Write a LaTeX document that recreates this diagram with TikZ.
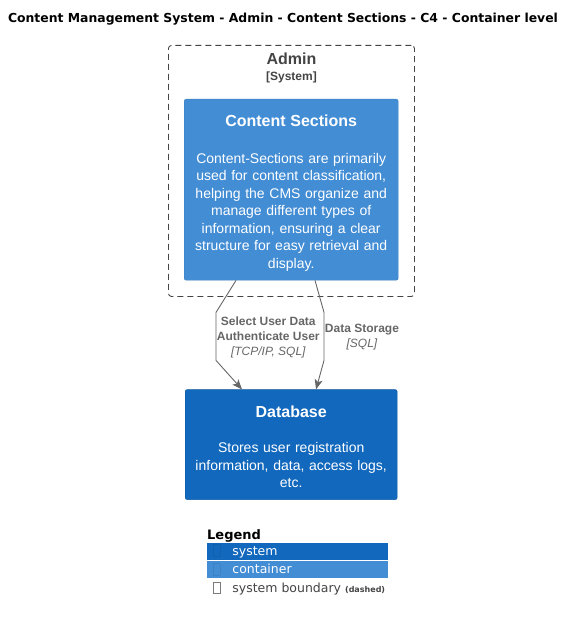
\documentclass[tikz,border=0pt]{standalone}
\usepackage{fontspec}
\setmainfont{Liberation Sans}
\newfontfamily\dejavu{DejaVu Sans}
\usepackage{xcolor}
\usepackage{tikz}
\usetikzlibrary{shapes,arrows.meta,positioning}

\definecolor{sysblue}{HTML}{1168BD}
\definecolor{contblue}{HTML}{438DD5}
\definecolor{contline}{HTML}{3C7FC0}
\definecolor{relgray}{HTML}{666666}
\definecolor{bndgray}{HTML}{444444}

\newcommand{\tofubox}[1]{\raisebox{-1pt}{{\color{#1}\fboxrule=0.6pt\fboxsep=0pt\fbox{\rule{0pt}{11pt}\hspace{6pt}}}}}

\tikzset{
  container/.style={rectangle, draw=contline, fill=contblue, rounded corners=2pt, text=white, align=center, inner sep=0pt, font=\fontsize{14}{17.5}\selectfont},
  dbsystem/.style={rectangle, draw=sysblue!85!black, fill=sysblue, rounded corners=2pt, text=white, align=center, inner sep=0pt, font=\fontsize{14}{17.5}\selectfont},
  boundary/.style={rectangle, draw=bndgray, line width=0.9pt, dash pattern=on 6pt off 4pt, rounded corners=3pt},
  rel/.style={draw=relgray, line width=0.9pt, -{Stealth[length=10pt,width=8pt,inset=2.5pt]}},
  rellabel/.style={text=relgray, align=center, inner sep=0.5pt, font=\fontsize{12}{15}\selectfont},
  legrow/.style={rectangle, minimum width=181pt, minimum height=17pt, inner xsep=6pt, inner ysep=0pt, align=left, font=\dejavu\fontsize{12.5}{15}\selectfont}
}

\begin{document}
\begin{tikzpicture}[x=1pt, y=-1pt]
\useasboundingbox (0,0) rectangle (574,620);

\node[font=\dejavu\bfseries\fontsize{12.4}{14}\selectfont] (title) at (283,19) {Content Management System - Admin - Content Sections - C4 - Container level};

\node[boundary, minimum width=246pt, minimum height=251pt, anchor=north west] (admin) at (168,45) {};
\node[below=7.5pt of admin.north, text=bndgray, align=center, inner sep=0pt, font=\bfseries\fontsize{16}{16}\selectfont] (adminlabel) {Admin\\[0pt]{\fontsize{12}{14}\selectfont [System]}};

\node[container, minimum width=214pt, minimum height=181pt, text width=206pt, text height=18.5pt, anchor=north west] (sections) at (184,99)
  {{\bfseries\fontsize{16}{19}\selectfont Content Sections}\\[19pt]
   Content-Sections are primarily\\ used for content classification,\\ helping the CMS organize and\\ manage different types of\\ information, ensuring a clear\\ structure for easy retrieval and\\ display.};

\node[dbsystem, minimum width=212pt, minimum height=110pt, text width=204pt, text height=16pt, below=109pt of sections] (database)
  {{\bfseries\fontsize{16}{19}\selectfont Database}\\[18pt]
   Stores user registration\\ information, data, access logs,\\ etc.};

\draw[rel] ([xshift=52pt]sections.south west) -- ++(-20,32)
  -- node[rellabel, right, yshift=-1pt] {\bfseries Select User Data\\ \bfseries Authenticate User\\ \itshape [TCP/IP, SQL]} ++(0,48)
  -- ([xshift=57pt]database.north west);
\draw[rel] ([xshift=131pt]sections.south west) -- ++(9,32)
  -- node[rellabel, right, yshift=-1pt] {\bfseries Data Storage\\ \itshape [SQL]} ++(0,48)
  -- ([xshift=131pt]database.north west);

% legend
\node[anchor=west, inner sep=0pt, font=\dejavu\bfseries\fontsize{13}{15}\selectfont] (legend) at (207,535.5) {Legend};
\node[legrow, fill=sysblue, text=white, text width=169pt, anchor=west] (lsystem) at (207,551) {\tofubox{sysblue!92!black}\hspace{12pt}system};
\node[legrow, fill=contblue, text=white, text width=169pt, below=1pt of lsystem] (lcontainer) {\tofubox{contblue!92!black}\hspace{12pt}container};
\node[legrow, text=bndgray, below=1.5pt of lcontainer.south west, anchor=north west] (lboundary) {\tofubox{bndgray!70}\hspace{12pt}system boundary {\bfseries\fontsize{8}{10}\selectfont (dashed)}};
\end{tikzpicture}
\end{document}
